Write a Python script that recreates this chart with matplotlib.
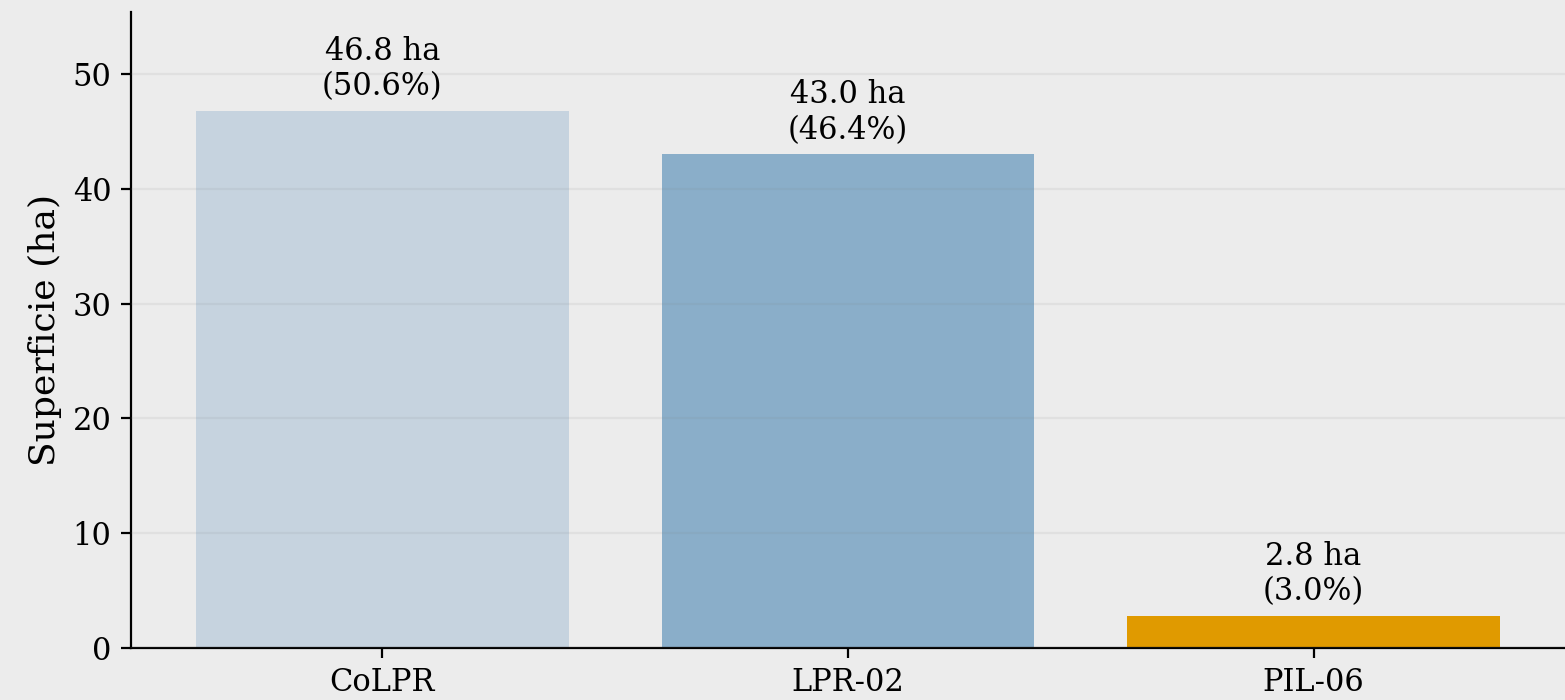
import numpy as np
import matplotlib
matplotlib.use("Agg")
import matplotlib.pyplot as plt

# Data
sites = ["CoLPR", "LPR-02", "PIL-06"]
area_ha = [46.8, 43.0, 2.8]
area_pct = [50.6, 46.4, 3.0]
bar_colors = ["#c6d3df", "#8aaec9", "#e09a00"]

plt.rcParams['font.family'] = ['DejaVu Serif']

DPI = 200
fig = plt.figure(figsize=(1565 / DPI, 700 / DPI), dpi=DPI, facecolor="#ececec")
ax = fig.add_axes([131 / 1565, 52 / 700, 1 - 131 / 1565, 636 / 700])
ax.set_facecolor("#ececec")

x = np.arange(len(sites))
ax.bar(x, area_ha, width=0.8, color=bar_colors)

# value labels above each bar
for xi, v, p in zip(x, area_ha, area_pct):
    ax.annotate(f"{v:.1f} ha\n({p:.1f}%)", xy=(xi, v), xytext=(0, 3),
                textcoords="offset points", ha="center", va="bottom",
                fontsize=11)

ax.set_xticks(x)
ax.set_xticklabels(sites)
ax.set_ylabel("Superficie (ha)", fontsize=13)
ax.set_ylim(0, 55.4)
ax.set_yticks([0, 10, 20, 30, 40, 50])
ax.tick_params(labelsize=11)

ax.grid(axis="y", color="gray", alpha=0.1, linewidth=0.8)
ax.set_axisbelow(False)
ax.spines["top"].set_visible(False)
ax.spines["right"].set_visible(False)

fig.savefig("out.png", dpi=DPI, facecolor=fig.get_facecolor())
